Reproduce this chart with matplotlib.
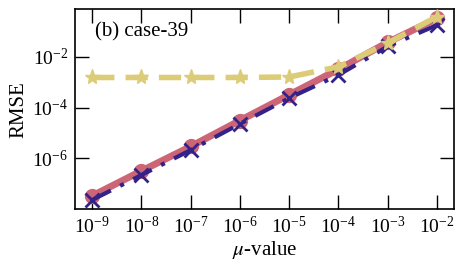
import numpy as np
import matplotlib.pyplot as plt

plt.rcParams['font.family'] = ['Liberation Serif', 'DejaVu Serif']
plt.rcParams['mathtext.fontset'] = 'stix'

mu = [1e-9, 1e-8, 1e-7, 1e-6, 1e-5, 1e-4, 1e-3, 1e-2]
exp_red = [-7.47, -6.49, -5.53, -4.51, -3.5, -2.5, -1.44, -0.5]
exp_blue = [-7.63, -6.65, -5.67, -4.64, -3.63, -2.72, -1.6, -0.76]
exp_yellow = [-2.82, -2.82, -2.82, -2.82, -2.8, -2.4, -1.47, -0.43]
rmse_red = [10 ** e for e in exp_red]
rmse_blue = [10 ** e for e in exp_blue]
rmse_yellow = [10 ** e for e in exp_yellow]

fig = plt.figure(figsize=(4.63, 2.65), dpi=100)
ax = fig.add_axes([0.162, 0.211, 0.819, 0.754])

ax.plot(mu, rmse_red, color='#CC6677', lw=5, marker='o', ms=10, zorder=2)
ax.plot(mu, rmse_blue, color='#332288', lw=3, ls=(0, (5, 2.5, 1, 2.5)),
        marker='x', ms=10, mew=2, zorder=3)
ax.plot(mu, rmse_yellow, color='#DDCC77', lw=4, ls=(0, (4, 2)),
        marker='*', ms=11, zorder=4)

ax.set_xscale('log')
ax.set_yscale('log')
ax.set_ylim(10 ** -7.99, 10 ** -0.14)
ax.set_xticks(mu)
ax.set_yticks([1e-6, 1e-4, 1e-2])
ax.minorticks_off()
ax.tick_params(direction='in', top=True, right=True, length=10, width=1,
               labelsize=14, pad=5)
for s in ax.spines.values():
    s.set_linewidth(1.2)

ax.set_xlabel(r'$\mu$-value', fontsize=15, labelpad=1)
ax.set_ylabel('RMSE', fontsize=15, labelpad=3)
ax.text(0.053, 0.885, '(b) case-39', transform=ax.transAxes, fontsize=15,
        va='center', ha='left')

fig.savefig('out.png', dpi=100)
